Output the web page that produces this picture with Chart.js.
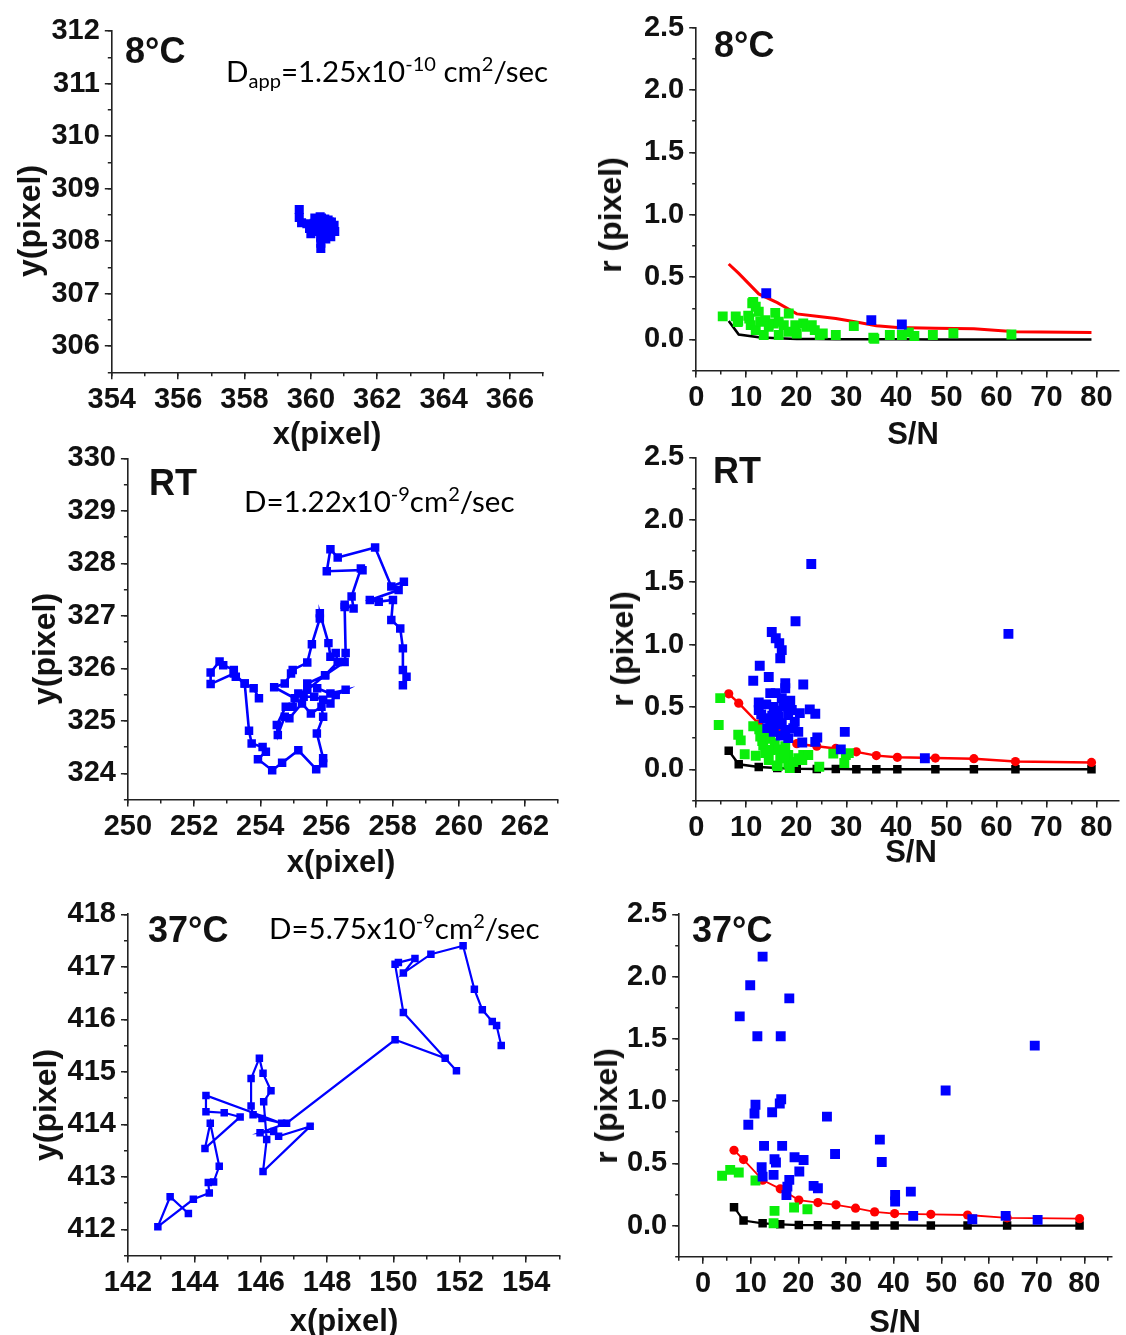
<!DOCTYPE html>
<html>
<head>
<meta charset="utf-8">
<title>Single-particle tracking precision</title>
<script src="https://cdn.jsdelivr.net/npm/chart.js@4/dist/chart.umd.min.js"></script>
<style>
  html, body { margin: 0; padding: 0; background: #fff; }
  #page { position: relative; width: 1126px; height: 1335px; overflow: hidden; font-family: "Liberation Sans", Arial, sans-serif; color: #111; }
  canvas { position: absolute; }
  .tag { position: absolute; font-weight: bold; font-size: 36px; line-height: 1; white-space: nowrap; }
  .coef { position: absolute; font-family: Lato, sans-serif; font-size: 29.5px; line-height: 1; white-space: nowrap; color: #000; }
  .coef .up { font-size: 0.68em; position: relative; top: -0.55em; }
  .coef .dn { font-size: 0.68em; position: relative; top: 0.3em; }
  .ttl { position: absolute; font-weight: bold; font-size: 31px; line-height: 1; white-space: nowrap; transform: translate(-50%, -50%); }
  .ttl.v { font-size: 32px; transform: translate(-50%, -50%) rotate(-90deg); }
</style>
</head>
<body>
<div id="page">
  <canvas id="trk8"></canvas>
  <canvas id="err8"></canvas>
  <canvas id="trkRT"></canvas>
  <canvas id="errRT"></canvas>
  <canvas id="trk37"></canvas>
  <canvas id="err37"></canvas>

  <div class="tag" style="left:125px;top:33px">8°C</div>
  <div class="tag" style="left:714px;top:27px">8°C</div>
  <div class="tag" style="left:149px;top:465px">RT</div>
  <div class="tag" style="left:713px;top:453px">RT</div>
  <div class="tag" style="left:148px;top:912px">37°C</div>
  <div class="tag" style="left:692px;top:912px">37°C</div>

  <div class="coef" style="left:226px;top:56px">D<span class="dn">app</span>=1.25x10<span class="up">-10</span> cm<span class="up">2</span>/sec</div>
  <div class="coef" style="left:244px;top:486px">D=1.22x10<span class="up">-9</span>cm<span class="up">2</span>/sec</div>
  <div class="coef" style="left:269px;top:913px">D=5.75x10<span class="up">-9</span>cm<span class="up">2</span>/sec</div>

  <div class="ttl v" style="left:29px;top:221px">y(pixel)</div>
  <div class="ttl v" style="left:610px;top:215px">r (pixel)</div>
  <div class="ttl v" style="left:44px;top:649px">y(pixel)</div>
  <div class="ttl v" style="left:622px;top:649px">r (pixel)</div>
  <div class="ttl v" style="left:45px;top:1105px">y(pixel)</div>
  <div class="ttl v" style="left:606px;top:1106px">r (pixel)</div>

  <div class="ttl" style="left:327px;top:433px">x(pixel)</div>
  <div class="ttl" style="left:913px;top:433px">S/N</div>
  <div class="ttl" style="left:341px;top:861px">x(pixel)</div>
  <div class="ttl" style="left:911px;top:851px">S/N</div>
  <div class="ttl" style="left:344px;top:1320px">x(pixel)</div>
  <div class="ttl" style="left:895px;top:1321px">S/N</div>
</div>

<script>
(function () {
    // particle tracks, [x, y] in pixels
    const track8 = [
        [359.65, 308.60], [359.65, 308.45], [359.72, 308.35], [359.88, 308.33], [360.02, 308.28], [360.12, 308.44],
        [360.28, 308.46], [360.42, 308.42], [360.56, 308.36], [360.68, 308.28], [360.72, 308.18], [360.60, 308.08],
        [360.45, 308.04], [360.30, 308.08], [360.14, 308.18], [360.00, 308.14], [359.96, 308.24], [360.10, 308.34],
        [360.30, 308.30], [360.50, 308.22], [360.62, 308.26], [360.52, 308.40], [360.32, 308.44], [360.16, 308.36],
        [360.20, 308.22], [360.36, 308.16], [360.56, 308.16], [360.70, 308.30], [360.50, 308.30], [360.36, 308.24],
        [360.30, 308.06], [360.30, 307.96], [360.30, 307.86], [360.36, 308.10], [360.46, 308.26], [360.62, 308.36],
        [360.42, 308.20]
    ];
    const trackRT = [
        [253.96, 325.43], [253.80, 325.62], [253.53, 325.71], [253.26, 325.84], [253.20, 325.97], [252.88, 326.06],
        [252.77, 326.13], [252.50, 325.92], [252.50, 325.70], [253.20, 325.90], [253.53, 325.71], [253.66, 324.81],
        [253.74, 324.57], [254.07, 324.50], [254.17, 324.41], [253.93, 324.27], [254.36, 324.06], [254.66, 324.20],
        [255.15, 324.44], [255.69, 324.08], [255.90, 324.19], [255.90, 324.29], [255.71, 324.76], [255.90, 325.08],
        [255.85, 325.27], [255.53, 325.14], [255.26, 325.33], [254.88, 325.05], [254.74, 325.08], [254.53, 324.73],
        [254.50, 324.92], [254.77, 325.27], [254.98, 325.27], [255.04, 325.43], [254.42, 325.64], [254.74, 325.71],
        [254.93, 325.90], [254.98, 325.97], [255.42, 326.11], [255.56, 326.46], [255.80, 326.95], [255.80, 327.05],
        [256.06, 326.48], [256.12, 326.22], [256.28, 326.29], [256.34, 326.12], [255.96, 325.87], [255.42, 325.59],
        [255.15, 325.52], [255.31, 325.46], [255.63, 325.46], [255.90, 325.40], [256.12, 325.33], [256.28, 325.49],
        [256.58, 325.59], [256.12, 325.52], [255.72, 325.62], [255.42, 325.71], [255.96, 325.87], [256.55, 326.12],
        [256.58, 326.29], [256.55, 327.17], [256.55, 327.21], [256.82, 327.14], [256.76, 327.37], [257.04, 327.90],
        [257.09, 327.87], [256.01, 327.85], [256.12, 328.27], [256.34, 328.11], [257.47, 328.30], [257.96, 327.56],
        [258.34, 327.65], [258.18, 327.49], [257.31, 327.30], [257.58, 327.27], [258.01, 327.30], [257.96, 326.92],
        [258.23, 326.76], [258.31, 326.38], [258.31, 325.97], [258.42, 325.84], [258.31, 325.68]
    ];
    const track37 = [
        [143.82, 412.30], [143.27, 412.62], [142.90, 412.05], [143.97, 412.57], [144.45, 412.69], [144.42, 412.89],
        [144.58, 412.90], [144.75, 413.20], [144.48, 414.02], [144.32, 413.54], [145.38, 414.14], [144.90, 414.22],
        [144.35, 414.24], [144.35, 414.55], [146.63, 414.02], [146.04, 414.11], [145.77, 414.18], [145.71, 414.35],
        [145.71, 414.87], [145.96, 415.26], [146.07, 414.97], [146.31, 414.64], [146.09, 414.43], [146.18, 413.71],
        [146.07, 413.10], [147.49, 413.96], [146.54, 413.77], [146.39, 413.86], [145.98, 413.84], [146.78, 414.02],
        [150.05, 415.61], [151.56, 415.26], [151.90, 415.02], [150.30, 416.13], [150.05, 417.05], [150.15, 417.08],
        [150.65, 417.16], [150.30, 416.88], [151.13, 417.24], [152.10, 417.40], [152.44, 416.57], [152.68, 416.18],
        [152.98, 415.96], [153.11, 415.88], [153.25, 415.50]
    ];

    // reference curves against S/N
    const snGrid = [6.5, 8.5, 12.5, 16.2, 20.1, 24.1, 27.9, 32, 36, 40.2, 47.8, 55.5, 63.8, 79];
    const redCurve = [0.605, 0.53, 0.365, 0.295, 0.205, 0.185, 0.167, 0.14, 0.11, 0.096, 0.09, 0.085, 0.062, 0.055];
    const blackCurve = [0.148, 0.04, 0.018, 0.01, 0.004, 0.003, 0.002, 0.001, 0.001, 0.001, 0, 0, 0, 0];

    // measured r vs S/N, [S/N, r]
    const blue8 = [[14.0, 0.37], [35.0, 0.155], [41.1, 0.12]];
    const green8 = [
        [5.3, 0.185], [7.9, 0.185], [8.4, 0.15], [8.3, 0.14], [10.4, 0.19], [10.6, 0.168], [11.2, 0.29], [11.4, 0.30],
        [11.9, 0.262], [12.5, 0.222], [10.9, 0.115], [11.9, 0.075], [12.8, 0.142], [13.8, 0.155], [13.5, 0.035],
        [14.5, 0.102], [15.8, 0.213], [15.5, 0.128], [16.5, 0.142], [16.5, 0.035], [17.5, 0.115], [18.5, 0.208],
        [18.5, 0.062], [19.8, 0.115], [20.1, 0.048], [21.4, 0.128], [22.1, 0.102], [23.1, 0.115], [23.7, 0.075],
        [24.7, 0.035], [25.3, 0.048], [27.9, 0.035], [31.5, 0.107], [35.4, 0.013], [35.6, 0.005], [38.7, 0.035],
        [41.1, 0.035], [42.5, 0.055], [43.6, 0.027], [47.3, 0.035], [51.4, 0.05], [63.0, 0.04]
    ];
    const blueRT = [
        [23.0, 1.645], [19.85, 1.186], [15.1, 1.10], [15.9, 1.05], [16.6, 1.01], [17.1, 0.955], [16.8, 0.89],
        [12.7, 0.83], [14.5, 0.74], [11.4, 0.71], [17.8, 0.69], [17.8, 0.65], [21.4, 0.68], [14.8, 0.61], [15.9, 0.61],
        [17.1, 0.57], [12.5, 0.535], [18.4, 0.52], [12.5, 0.475], [15.5, 0.50], [19.1, 0.475], [13.5, 0.41],
        [16.5, 0.42], [18.4, 0.435], [20.7, 0.45], [22.7, 0.48], [23.8, 0.445], [14.8, 0.37], [17.1, 0.37],
        [19.7, 0.38], [15.5, 0.30], [17.8, 0.315], [20.4, 0.30], [18.4, 0.25], [21.2, 0.215], [24.2, 0.255],
        [23.8, 0.22], [28.9, 0.16], [29.7, 0.30], [45.7, 0.088], [62.4, 1.085], [13.0, 0.44], [14.0, 0.52],
        [16.0, 0.36], [16.2, 0.47], [17.5, 0.50], [18.8, 0.55], [19.4, 0.33], [16.9, 0.27], [15.2, 0.43], [14.2, 0.33]
    ];
    const greenRT = [
        [4.8, 0.57], [4.5, 0.355], [8.4, 0.277], [8.9, 0.232], [11.4, 0.345], [12.6, 0.32], [9.7, 0.121], [11.9, 0.108],
        [13.2, 0.226], [13.4, 0.19], [12.8, 0.262], [14.2, 0.262], [14.8, 0.245], [15.7, 0.21], [13.8, 0.13],
        [14.5, 0.075], [14.9, 0.155], [16.4, 0.16], [16.8, 0.088], [17.8, 0.185], [18.4, 0.115], [16.1, 0.03],
        [18.4, 0.045], [18.7, 0.01], [20.4, 0.088], [19.4, 0.058], [21.4, 0.115], [22.4, 0.115], [21.2, 0.075],
        [24.6, 0.02], [27.4, 0.126], [29.9, 0.115], [30.5, 0.13], [29.6, 0.05], [17.7, 0.115], [16.3, 0.027]
    ];
    const blue37 = [
        [7.7, 1.68], [9.9, 1.93], [12.5, 2.16], [18.1, 1.825], [11.4, 1.52], [16.3, 1.52], [69.6, 1.445], [50.9, 1.085],
        [9.5, 0.81], [10.8, 0.90], [11.0, 0.97], [14.5, 0.91], [16.1, 0.98], [16.4, 1.015], [26.0, 0.875], [12.8, 0.64],
        [16.6, 0.64], [37.1, 0.69], [37.5, 0.51], [27.7, 0.575], [12.3, 0.468], [12.5, 0.393], [15.0, 0.533],
        [15.3, 0.506], [14.8, 0.407], [19.2, 0.549], [21.1, 0.527], [20.2, 0.434], [18.1, 0.367], [17.7, 0.313],
        [17.5, 0.246], [23.2, 0.319], [24.1, 0.30], [40.3, 0.246], [40.3, 0.193], [43.6, 0.273], [44.1, 0.078],
        [56.5, 0.051], [63.5, 0.078], [70.2, 0.046]
    ];
    const green37 = [[4.0, 0.40], [5.7, 0.447], [7.5, 0.426], [11.0, 0.362], [15.0, 0.118], [19.1, 0.145], [21.9, 0.131], [14.8, 0.019]];

    const BLUE = '#0000ff', GREEN = '#0aee0a', RED = '#ff0000', BLACK = '#000000';
    const axisInk = '#222';
    const tickFont = { family: 'Liberation Sans', size: 29, weight: 'bold' };

    function pts(pairs) { return pairs.map(function (p) { return { x: p[0], y: p[1] }; }); }
    function curve(ys) { return snGrid.map(function (x, i) { return { x: x, y: ys[i] }; }); }

    // labelled axis: long ticks at major steps
    function majorAxis(spec, pad, fitKey, fitVal) {
        return {
            type: 'linear', min: spec.min, max: spec.max, weight: 1,
            border: { display: true, color: axisInk, width: 1.6 },
            grid: { drawOnChartArea: false, drawTicks: true, tickLength: 7, color: axisInk, lineWidth: 1.5 },
            ticks: {
                stepSize: spec.major, includeBounds: false, autoSkip: false, maxRotation: 0, minRotation: 0,
                padding: pad, color: '#111', font: tickFont,
                callback: function (v) { return spec.fmt(v); }
            },
            afterFit: function (s) { s[fitKey] = fitVal; }
        };
    }
    // zero-size companion axis that only adds the short minor ticks
    function minorAxis(spec, position) {
        return {
            type: 'linear', min: spec.min, max: spec.max, position: position, weight: 0,
            border: { display: false },
            grid: { drawOnChartArea: false, drawTicks: true, tickLength: 4, color: axisInk, lineWidth: 1.5 },
            ticks: { stepSize: spec.step, includeBounds: false, autoSkip: false, display: false },
            afterFit: function (s) { if (position === 'left') s.width = 0; else s.height = 0; }
        };
    }

    // area = plot box in page pixels; the canvas is sized around it
    function panel(id, area, xs, ys, datasets) {
        const cv = document.getElementById(id);
        const left = Math.floor(area.l - 110), top = Math.floor(area.t - 25);
        const right = Math.min(1126, Math.ceil(area.r + 30)), bottom = Math.ceil(area.b + 60);
        cv.width = right - left;
        cv.height = bottom - top;
        cv.style.left = left + 'px';
        cv.style.top = top + 'px';
        return new Chart(cv, {
            type: 'scatter',
            data: { datasets: datasets },
            options: {
                responsive: false, animation: false, events: [],
                layout: { padding: { left: 0, top: area.t - top, right: right - area.r, bottom: 0 } },
                plugins: { legend: { display: false }, tooltip: { enabled: false } },
                scales: {
                    x: majorAxis(xs, 3, 'height', bottom - area.b),
                    y: majorAxis(ys, 5, 'width', area.l - left),
                    xMinor: minorAxis(xs, 'bottom'),
                    yMinor: minorAxis(ys, 'left')
                }
            }
        });
    }

    function trackSet(pairs, radius, width) {
        return {
            data: pts(pairs), xAxisID: 'x', yAxisID: 'y', showLine: true, borderColor: BLUE, borderWidth: width,
            backgroundColor: BLUE, pointStyle: 'rect', pointRadius: radius, pointBorderWidth: 0, pointBackgroundColor: BLUE
        };
    }
    function dotSet(pairs, color) {
        return {
            data: pts(pairs), xAxisID: 'x', yAxisID: 'y', showLine: false, pointStyle: 'rect', pointRadius: 7,
            pointBorderWidth: 0, pointBackgroundColor: color, backgroundColor: color
        };
    }
    function curveSet(ys, color, width, style, radius) {
        return {
            data: curve(ys), xAxisID: 'x', yAxisID: 'y', showLine: true, borderColor: color, borderWidth: width, tension: 0,
            pointStyle: style, pointRadius: radius, pointBorderWidth: 0, pointBackgroundColor: color, backgroundColor: color
        };
    }

    const intFmt = function (v) { return String(Math.round(v)); };
    const oneDec = function (v) { return v.toFixed(1); };
    const snAxis = { min: 0, max: 84.5, step: 5, major: 10, fmt: intFmt };
    const rAxis = { min: -0.25, max: 2.5, step: 0.25, major: 0.5, fmt: oneDec };

    panel('trk8', { l: 111.8, t: 31, r: 543.1, b: 372.3 },
        { min: 354, max: 367, step: 1, major: 2, fmt: intFmt },
        { min: 305.5, max: 312, step: 0.5, major: 1, fmt: intFmt },
        [trackSet(track8, 6.4, 4)]);

    panel('err8', { l: 696.2, t: 27.7, r: 1125.5, b: 370.6 }, snAxis, rAxis, [
        dotSet(blue8, BLUE),
        dotSet(green8, GREEN),
        curveSet(redCurve, RED, 3, 'circle', 0),
        curveSet(blackCurve, BLACK, 2.6, 'rect', 0)
    ]);

    panel('trkRT', { l: 127.9, t: 458.3, r: 558.1, b: 799.6 },
        { min: 250, max: 263, step: 1, major: 2, fmt: intFmt },
        { min: 323.5, max: 330, step: 0.5, major: 1, fmt: intFmt },
        [trackSet(trackRT, 6, 2.6)]);

    panel('errRT', { l: 696.2, t: 457.3, r: 1126, b: 800.5 }, snAxis, rAxis, [
        dotSet(blueRT, BLUE),
        dotSet(greenRT, GREEN),
        curveSet(redCurve, RED, 2.4, 'circle', 4.6),
        curveSet(blackCurve, BLACK, 2.4, 'rect', 6)
    ]);

    panel('trk37', { l: 128, t: 914.3, r: 559.3, b: 1255.5 },
        { min: 142, max: 155, step: 1, major: 2, fmt: intFmt },
        { min: 411.5, max: 418, step: 0.5, major: 1, fmt: intFmt },
        [trackSet(track37, 5.3, 2.2)]);

    panel('err37', { l: 679.2, t: 914.3, r: 1111.5, b: 1256.7 },
        { min: -5, max: 85.7, step: 5, major: 10, fmt: intFmt },
        rAxis, [
        dotSet(blue37, BLUE),
        dotSet(green37, GREEN),
        curveSet(redCurve, RED, 1.8, 'circle', 4.6),
        curveSet(blackCurve, BLACK, 2.2, 'rect', 6)
    ]);
})();
</script>
</body>
</html>
